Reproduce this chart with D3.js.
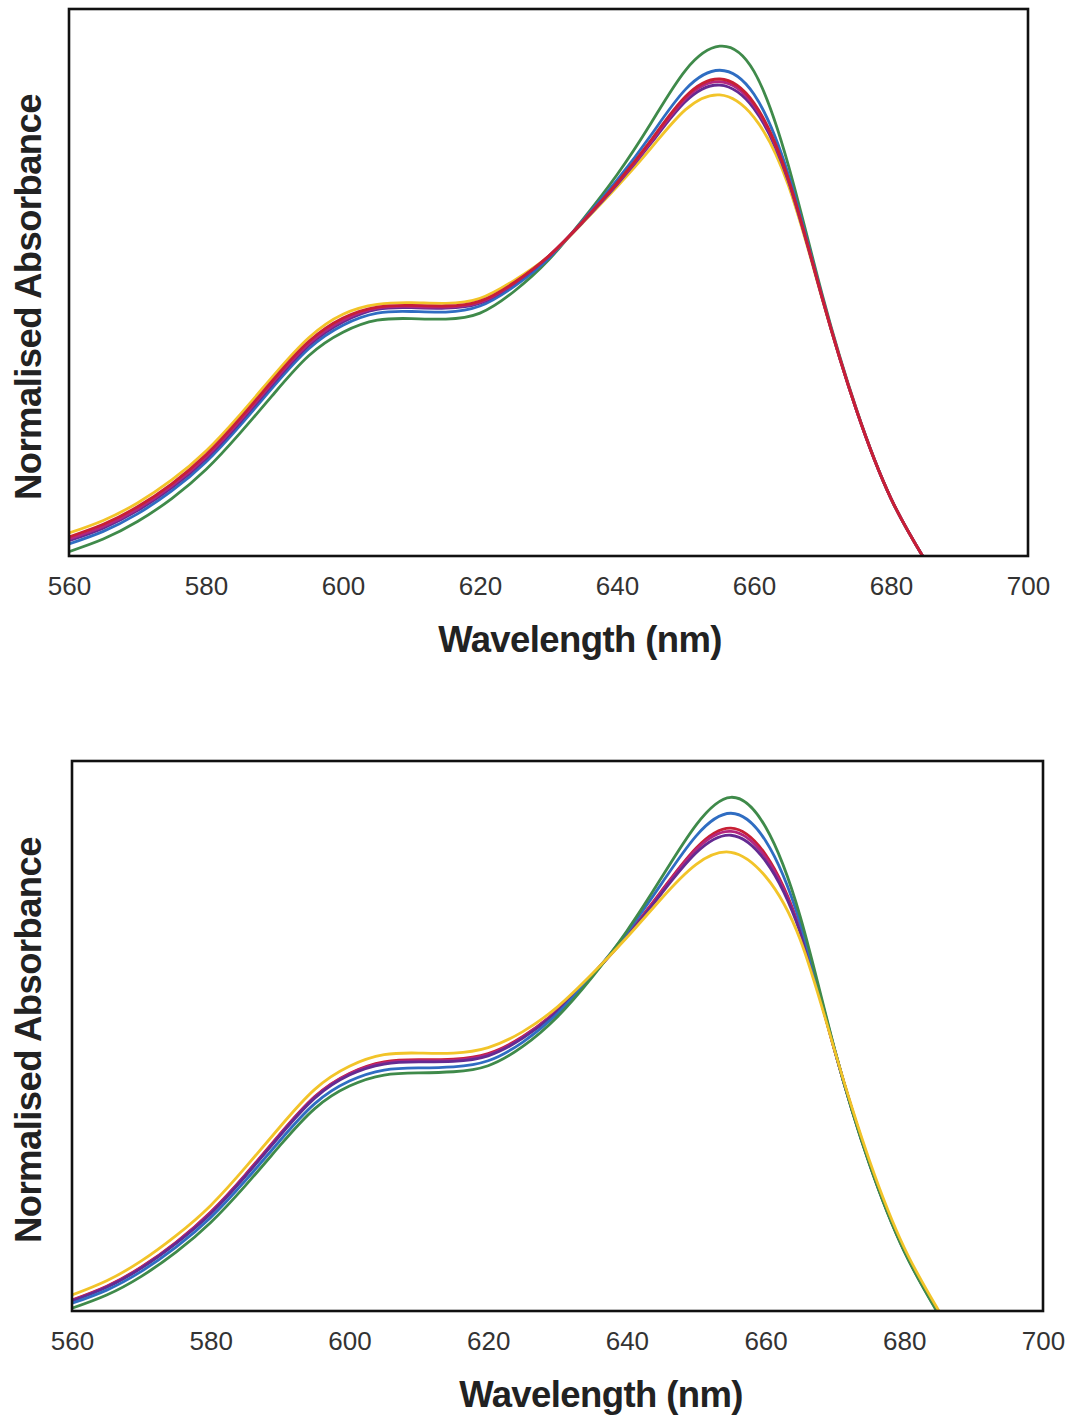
<!DOCTYPE html>
<html>
<head>
<meta charset="utf-8">
<script src="https://cdn.jsdelivr.net/npm/d3@7"></script>
<style>
  body { margin: 0; background: #fff; }
  svg { display: block; }
</style>
</head>
<body>
<svg id="chart"></svg>
<script>
// wavelength grid (nm)
const wavelengths = [560, 565, 570, 575, 580, 585, 590, 595, 600, 605, 610, 615, 620,
  625, 630, 635, 640, 645, 650, 655, 660, 665, 670, 675, 680, 685];
const xTicks = [560, 580, 600, 620, 640, 660, 680, 700];

// top panel, normalised absorbance
const topGreen   = [0.008, 0.031, 0.063, 0.105, 0.158, 0.225, 0.298, 0.366, 0.409, 0.431, 0.434, 0.433, 0.444, 0.484, 0.541, 0.615, 0.697, 0.792, 0.888, 0.932, 0.886, 0.715, 0.476, 0.267, 0.105, -0.008];
const topBlue    = [0.022, 0.045, 0.077, 0.119, 0.172, 0.239, 0.312, 0.379, 0.422, 0.444, 0.447, 0.446, 0.457, 0.493, 0.544, 0.613, 0.687, 0.770, 0.853, 0.888, 0.844, 0.698, 0.472, 0.265, 0.105, -0.008];
const topYellow  = [0.042, 0.065, 0.097, 0.139, 0.192, 0.259, 0.332, 0.399, 0.442, 0.460, 0.463, 0.462, 0.471, 0.504, 0.548, 0.609, 0.675, 0.746, 0.816, 0.843, 0.802, 0.678, 0.468, 0.265, 0.105, -0.008];
const topPurple  = [0.028, 0.051, 0.083, 0.125, 0.178, 0.245, 0.318, 0.385, 0.428, 0.451, 0.454, 0.453, 0.462, 0.498, 0.547, 0.610, 0.679, 0.755, 0.831, 0.861, 0.818, 0.686, 0.469, 0.265, 0.105, -0.008];
const topMagenta = [0.031, 0.054, 0.086, 0.128, 0.181, 0.248, 0.321, 0.388, 0.431, 0.453, 0.456, 0.455, 0.464, 0.499, 0.548, 0.611, 0.681, 0.758, 0.836, 0.867, 0.824, 0.688, 0.470, 0.265, 0.105, -0.008];
const topRed     = [0.035, 0.058, 0.090, 0.132, 0.185, 0.252, 0.325, 0.392, 0.435, 0.455, 0.458, 0.457, 0.466, 0.500, 0.548, 0.611, 0.682, 0.761, 0.840, 0.872, 0.828, 0.690, 0.470, 0.265, 0.105, -0.008];

// bottom panel
const botRed     = [0.020, 0.045, 0.080, 0.125, 0.180, 0.248, 0.322, 0.390, 0.432, 0.453, 0.457, 0.458, 0.468, 0.499, 0.547, 0.611, 0.683, 0.764, 0.842, 0.878, 0.830, 0.693, 0.472, 0.268, 0.110, -0.004];
const botMagenta = [0.019, 0.044, 0.079, 0.124, 0.179, 0.247, 0.321, 0.389, 0.431, 0.451, 0.455, 0.456, 0.466, 0.498, 0.547, 0.611, 0.682, 0.762, 0.839, 0.872, 0.825, 0.691, 0.472, 0.268, 0.110, -0.004];
const botPurple  = [0.018, 0.043, 0.078, 0.123, 0.177, 0.245, 0.319, 0.387, 0.429, 0.449, 0.453, 0.454, 0.464, 0.496, 0.545, 0.611, 0.681, 0.759, 0.833, 0.865, 0.818, 0.688, 0.472, 0.268, 0.110, -0.004];
const botBlue    = [0.014, 0.038, 0.072, 0.116, 0.170, 0.237, 0.310, 0.377, 0.418, 0.438, 0.442, 0.444, 0.455, 0.489, 0.541, 0.610, 0.688, 0.777, 0.864, 0.905, 0.855, 0.705, 0.473, 0.267, 0.109, -0.006];
const botGreen   = [0.005, 0.029, 0.063, 0.107, 0.161, 0.228, 0.301, 0.368, 0.409, 0.429, 0.433, 0.435, 0.446, 0.481, 0.535, 0.607, 0.691, 0.788, 0.884, 0.934, 0.880, 0.717, 0.474, 0.266, 0.108, -0.007];
const botYellow  = [0.029, 0.055, 0.091, 0.137, 0.192, 0.261, 0.335, 0.403, 0.445, 0.466, 0.469, 0.469, 0.479, 0.508, 0.553, 0.613, 0.679, 0.750, 0.812, 0.834, 0.790, 0.675, 0.472, 0.273, 0.115, 0.000];

const colors = {
  green: "#3f8a4a",
  blue: "#2f6dc2",
  yellow: "#f2c429",
  purple: "#642a92",
  magenta: "#b3267f",
  red: "#c81f35",
};

const width = 1065;
const height = 1421;
const svg = d3.select("#chart").attr("width", width).attr("height", height);

function drawPanel(box, series, id) {
  const x = d3.scaleLinear().domain([560, 700]).range([box.left, box.right]);
  const y = d3.scaleLinear().domain([0, 1]).range([box.bottom, box.top]);

  const g = svg.append("g").attr("id", id);

  g.append("clipPath").attr("id", id + "-clip")
    .append("rect")
    .attr("x", box.left).attr("y", box.top)
    .attr("width", box.right - box.left).attr("height", box.bottom - box.top);

  const line = d3.line()
    .x((d) => x(d[0]))
    .y((d) => y(d[1]))
    .curve(d3.curveNatural);

  g.append("g")
    .attr("clip-path", `url(#${id}-clip)`)
    .selectAll("path")
    .data(series)
    .join("path")
    .attr("d", (s) => line(wavelengths.map((w, i) => [w, s.values[i]])))
    .attr("fill", "none")
    .attr("stroke", (s) => colors[s.key])
    .attr("stroke-width", 2.8)
    .attr("stroke-linejoin", "round");

  // frame
  g.append("rect")
    .attr("x", box.left).attr("y", box.top)
    .attr("width", box.right - box.left).attr("height", box.bottom - box.top)
    .attr("fill", "none").attr("stroke", "#111").attr("stroke-width", 2.6);

  // x axis labels
  const axis = g.append("g")
    .attr("transform", `translate(0,${box.bottom})`)
    .call(d3.axisBottom(x).tickValues(xTicks).tickSize(0).tickPadding(21));
  axis.select(".domain").remove();
  axis.selectAll("text")
    .attr("font-family", "Liberation Sans, Arial, sans-serif")
    .attr("font-size", 26)
    .attr("fill", "#333");

  g.append("text")
    .attr("x", box.titleX)
    .attr("y", box.bottom + 96)
    .attr("text-anchor", "middle")
    .attr("font-family", "Liberation Sans, Arial, sans-serif")
    .attr("font-weight", "bold")
    .attr("font-size", 36.5)
    .attr("letter-spacing", -0.6)
    .attr("fill", "#222")
    .text("Wavelength (nm)");

  g.append("text")
    .attr("transform", `translate(41,${box.yTitleY}) rotate(-90)`)
    .attr("text-anchor", "middle")
    .attr("font-family", "Liberation Sans, Arial, sans-serif")
    .attr("font-weight", "bold")
    .attr("font-size", 36.5)
    .attr("letter-spacing", -0.6)
    .attr("fill", "#222")
    .text("Normalised Absorbance");
}

drawPanel({ left: 69, right: 1028, top: 9, bottom: 556, titleX: 580, yTitleY: 297 }, [
  { key: "green", values: topGreen },
  { key: "blue", values: topBlue },
  { key: "yellow", values: topYellow },
  { key: "purple", values: topPurple },
  { key: "magenta", values: topMagenta },
  { key: "red", values: topRed },
], "top");

drawPanel({ left: 72, right: 1043, top: 761, bottom: 1311, titleX: 601, yTitleY: 1040 }, [
  { key: "red", values: botRed },
  { key: "magenta", values: botMagenta },
  { key: "purple", values: botPurple },
  { key: "blue", values: botBlue },
  { key: "green", values: botGreen },
  { key: "yellow", values: botYellow },
], "bottom");
</script>
</body>
</html>
